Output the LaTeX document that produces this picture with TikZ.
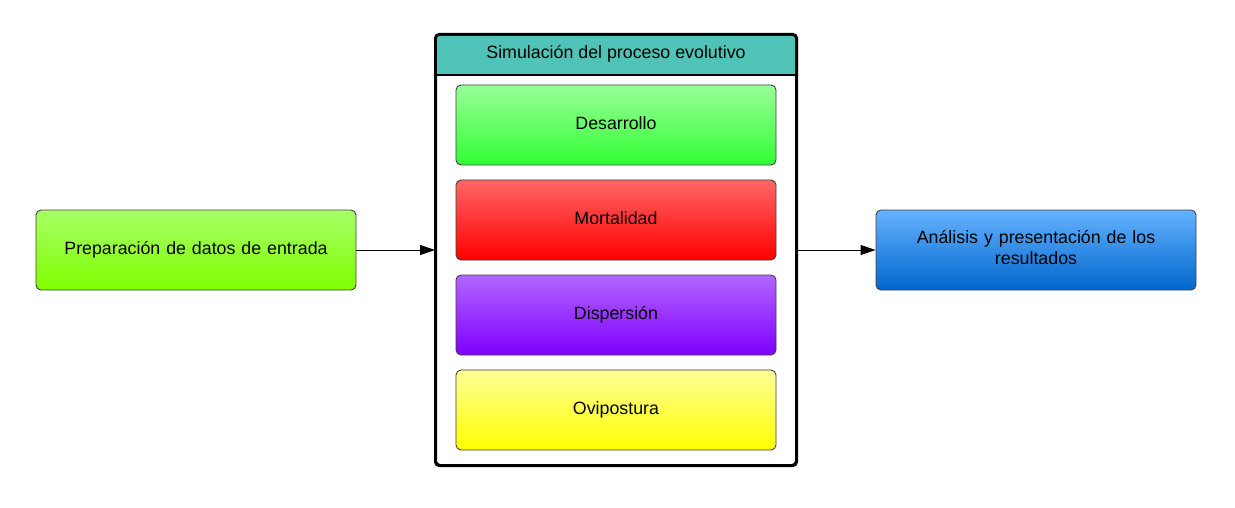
\documentclass[tikz,border=0pt]{standalone}
\usepackage{fontspec}
\setmainfont{Liberation Sans}
\usetikzlibrary{arrows.meta}
\definecolor{hdr}{HTML}{4FC3B8}
\definecolor{edge}{HTML}{404040}
\tikzset{
  x=1pt, y=-1pt,
  box/.style={draw=edge, line width=0.9pt, rounded corners=5pt, minimum width=320pt, minimum height=80pt, inner sep=0pt, align=center, text width=300pt, font=\fontsize{17.8}{21}\selectfont},
  one/.style={text height=13.5pt, text depth=4.5pt},
  conn/.style={line width=1pt, -{Triangle[length=15pt,width=10pt]}}
}
\begin{document}
\begin{tikzpicture}
\useasboundingbox (0,0) rectangle (1235,508);
% container
\node[draw=black, line width=2pt, rounded corners=4pt, fill=white, minimum width=360pt, minimum height=430pt, inner sep=0pt] (sim) at (616,250) {};
\fill[hdr] (437,75) [rounded corners=3pt] -- (437,36) -- (795,36) [sharp corners] -- (795,75) -- cycle;
\draw[line width=2pt, black, rounded corners=4pt] (sim.south west) rectangle (sim.north east);
\draw[line width=2pt] (sim.west |- 0,75) -- (sim.east |- 0,75);
\node[font=\fontsize{17.8}{21}\selectfont, one] (title) at (616,54) {Simulación del proceso evolutivo};
% inner
\node[box, one, top color={rgb,255:red,153;green,255;blue,153}, bottom color={rgb,255:red,51;green,255;blue,51}] (des) at (616,125) {Desarrollo};
\node[box, one, top color={rgb,255:red,255;green,102;blue,102}, bottom color={rgb,255:red,255;green,0;blue,0}] (mor) at (616,220) {Mortalidad};
\node[box, one, top color={rgb,255:red,178;green,102;blue,255}, bottom color={rgb,255:red,127;green,0;blue,255}] (dis) at (616,315) {Dispersión};
\node[box, one, top color={rgb,255:red,255;green,255;blue,153}, bottom color={rgb,255:red,255;green,255;blue,0}] (ovi) at (616,410) {Ovipostura};
% side boxes
\node[box, one, top color={rgb,255:red,166;green,255;blue,102}, bottom color={rgb,255:red,128;green,255;blue,0}] (prep) at (196,250) {Preparación de datos de entrada};
\node[box, top color={rgb,255:red,102;green,178;blue,255}, bottom color={rgb,255:red,0;green,102;blue,204}] (res) at (1036,250) {\raisebox{2.5pt}{\begin{tabular}{@{}c@{}}Análisis y presentación de los\\resultados\end{tabular}}};
% connectors
\draw[conn] (prep.east) -- (sim.west);
\draw[conn] (sim.east) -- (res.west);
\end{tikzpicture}
\end{document}
